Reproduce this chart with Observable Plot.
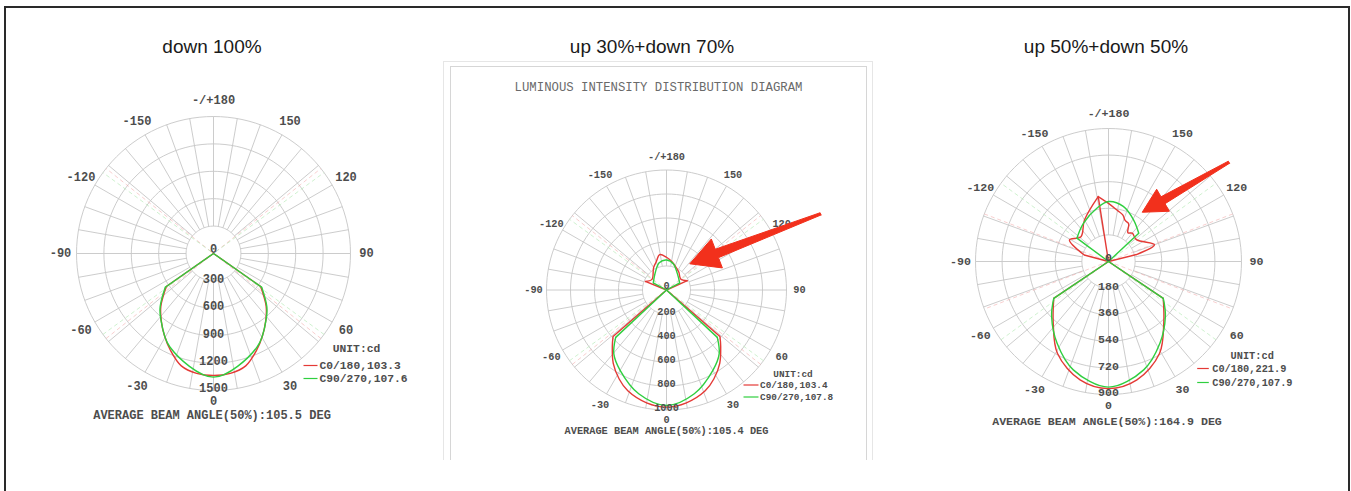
<!DOCTYPE html>
<html><head><meta charset="utf-8">
<script src="https://cdn.jsdelivr.net/npm/d3@7"></script>
<script src="https://cdn.jsdelivr.net/npm/@observablehq/plot@0.6"></script>
<style>
body{margin:0;background:#fff;width:1351px;height:491px;overflow:hidden;position:relative;font-family:"Liberation Sans",Arial,sans-serif}
.frame{position:absolute;left:4px;top:6px;width:1342px;height:520px;border:2px solid #2a2a2a;border-bottom:none}
.box{position:absolute;border:1px solid #d6d6d6;border-bottom:none}
.title{position:absolute;font-size:19px;line-height:22px;color:#1a1a1a;transform:translateX(-50%);white-space:nowrap}
.chart{position:absolute}
.chart svg{overflow:visible}
</style></head><body>
<div class="frame"></div>
<div class="box" style="left:443px;top:61px;width:428px;height:398px;border-color:#e6e6e6"></div>
<div class="box" style="left:450px;top:66px;width:415px;height:393px"></div>
<div id="root"></div>
<script>
// ---------------- data ----------------
const titles = ["down 100%", "up 30%+down 70%", "up 50%+down 50%"];
const angleTicks = [180, 150, 120, 90, 60, 30, 0, -30, -60, -90, -120, -150];
const angleTickLabels = ["-/+180", "150", "120", "90", "60", "30", "0", "-30", "-60", "-90", "-120", "-150"];
const scaleTicks1 = [0, 300, 600, 900, 1200, 1500];
const scaleTicks2 = [0, 200, 400, 600, 800, 1000];
const scaleTicks3 = [0, 180, 360, 540, 720, 900];
const legendLabels1 = ["C0/180,103.3", "C90/270,107.6"];
const legendLabels2 = ["C0/180,103.4", "C90/270,107.8"];
const legendLabels3 = ["C0/180,221.9", "C90/270,107.9"];
const beamRed = [103.3, 103.4, 221.9];
const beamGreen = [107.6, 107.8, 107.9];
const avgBeam = [105.5, 105.4, 164.9];
const diagramHeading2 = "LUMINOUS INTENSITY DISTRIBUTION DIAGRAM";

// curves: [angle in degrees (0 = down, +90 = right, ±180 = up), intensity cd]
const red1 = [[-90,0],[-55,630],[-45,815],[-38,930],[-31,1045],[-24,1160],[-16,1280],[-8,1325],[0,1336],[8,1325],[16,1280],[24,1160],[31,1045],[38,930],[45,815],[55,630],[90,0]];
const green1 = [[-90,0],[-55,645],[-45,826],[-39,918],[-25,1130],[0,1354],[25,1130],[39,918],[45,826],[55,645],[90,0]];

const red2 = [[90,0],[114,190],[128,150],[145,180],[155,200],[168,237],[180,273],[-169,300],[-160,250],[-150,215],[-126,150],[-112,190],[-90,0],[-49,590],[-44,650],[-36,755],[-28,840],[-21,900],[-10,955],[0,976],[10,955],[21,900],[28,840],[36,755],[44,650],[49,590],[90,0]];
const green2 = [[90,0],[118,125],[147,165],[165,225],[180,250],[-165,235],[-149,178],[-118,125],[-90,0],[-47,579],[-39.5,690],[-30,773],[-15,895],[0,962],[15,895],[30,773],[39.5,690],[47,579],[90,0]];

const red3 = [[-171,445],[180,393],[170,350],[163,330],[158,300],[152,290],[146,235],[140,250],[128,240],[110,331],[104,195],[90,0],[56,447],[42,559],[29,712],[13.5,824],[0,860],[-13.5,824],[-29,712],[-42,559],[-56,447],[-90,0],[-105,170],[-119,302],[-132,251],[-150,325],[-171,445],[-171,0]];
const green3 = [[90,0],[133,280],[149,329],[165,386],[180,406],[-168,370],[-147,310],[-126.5,266],[-90,0],[-56,447],[-46,535],[-32,655],[-18,771],[0,850],[18,771],[32,655],[46,535],[56,447],[90,0]];

// annotation arrows: tail and tip as [angle, cd]
const arrowTail2 = [116.3, 1432], arrowTip2 = [138.4, 292];
const arrowTail3 = [129.5, 1056], arrowTip3 = [145.6, 404];

// ---------------- layout ----------------
const RED = "#e43a36", GREEN = "#2fcf3f", ARROW = "#f2301c";
const configs = [
  {left: 30, top: 95, width: 400, height: 335, cx: 213, cy: 253, R: 137, max: 1500, ticks: scaleTicks1,
   red: red1, green: green1, legend: legendLabels1, i: 0, fs: 12, lfs: 11.3, labelOff: 16, zeroOff: 11,
   lg: {ux: 143, uy: 95, sx0: 90, sx1: 104, sy: [112, 125], tx: 106}, avgDy: 162, avgDx: -1.5,
   arrow: null, titleX: 212},
  {left: 455, top: 70, width: 405, height: 375, cx: 666, cy: 289.5, R: 120, max: 1000, ticks: scaleTicks2,
   red: red2, green: green2, legend: legendLabels2, i: 1, fs: 10.3, lfs: 9.4, labelOff: 13, zeroOff: 10,
   lg: {ux: 126.5, uy: 84, sx0: 77, sx1: 92, sy: [95, 107], tx: 93.5}, avgDy: 140.5, avgDx: 0,
   arrow: {tail: arrowTail2, tip: arrowTip2, hl: 29, hw: 15.5, sw1: 4.5, sw0: 1.2}, titleX: 652,
   heading: diagramHeading2, headDx: -8, headDy: -202.5},
  {left: 925, top: 95, width: 420, height: 340, cx: 1108, cy: 261, R: 133, max: 900, ticks: scaleTicks3,
   red: red3, green: green3, legend: legendLabels3, i: 2, fs: 11.6, lfs: 10.3, labelOff: 15, zeroOff: 11,
   lg: {ux: 143.7, uy: 94, sx0: 88.7, sx1: 100.3, sy: [107, 121], tx: 103.7}, avgDy: 160, avgDx: -1.5,
   arrow: {tail: arrowTail3, tip: arrowTip3, hl: 24, hw: 12.7, sw1: 4, sw0: 1.2}, titleX: 1106}
];

const root = document.getElementById("root");
const rad = a => a * Math.PI / 180;

// split a curve into smooth runs (away from the centre) and straight spokes to the centre
function splitCurve(arr) {
  const runs = [], links = [];
  let chunk = 0, prev = null;
  arr.forEach(([a, r]) => {
    if (r === 0) {
      if (prev && prev.r !== 0) links.push({a: prev.a, r: prev.r});
      chunk++;
      prev = {a, r};
    } else {
      if (prev && prev.r === 0) links.push({a, r});
      runs.push({a, r, chunk});
      prev = {a, r};
    }
  });
  return {runs, links};
}

configs.forEach(c => {
  const t = document.createElement("div");
  t.className = "title";
  t.style.left = c.titleX + "px";
  t.style.top = "36px";
  t.textContent = titles[c.i];
  root.appendChild(t);

  const k = c.max / c.R; // cd per pixel
  const cxL = c.cx - c.left, cyL = c.cy - c.top;
  const px = (a, r) => r * Math.sin(rad(a));
  const py = (a, r) => -r * Math.cos(rad(a));
  const X = dx => dx * k, Y = dy => -dy * k;
  const step = c.max / 5;
  const ringPts = d3.range(1, 6).flatMap(i => d3.range(0, 361, 3).map(a => ({i, a, r: i * step})));
  const spokes = d3.range(-170, 181, 10);
  const font = {fontFamily: "Liberation Mono, DejaVu Sans Mono, monospace", fontWeight: "bold", fill: "#4d4d4d"};
  const hr = beamRed[c.i] / 2, hg = beamGreen[c.i] / 2;
  const redBeams = [hr, -hr], greenBeams = [hg, -hg];
  const labOff = a => (a === 0 ? c.zeroOff : c.labelOff) * k;

  const curveMarks = (arr, color) => {
    const {runs, links} = splitCurve(arr);
    return [
      Plot.line(runs, {x: d => px(d.a, d.r), y: d => py(d.a, d.r), z: "chunk", stroke: color, strokeWidth: 1.4, curve: "catmull-rom"}),
      Plot.link(links, {x1: 0, y1: 0, x2: d => px(d.a, d.r), y2: d => py(d.a, d.r), stroke: color, strokeWidth: 1.4})
    ];
  };

  const marks = [
    Plot.line(ringPts, {x: d => px(d.a, d.r), y: d => py(d.a, d.r), z: "i", stroke: "#c6c6c6", strokeWidth: 0.9}),
    Plot.link(spokes, {x1: a => px(a, step), y1: a => py(a, step), x2: a => px(a, c.max), y2: a => py(a, c.max), stroke: "#c6c6c6", strokeWidth: 0.9}),
    Plot.link(redBeams, {x1: a => px(a, c.max), y1: a => py(a, c.max), x2: a => px(a + 180, c.max), y2: a => py(a + 180, c.max), stroke: "#f2a8a8", strokeWidth: 0.8, strokeDasharray: "4,3", strokeOpacity: 0.7}),
    Plot.link(greenBeams, {x1: a => px(a, c.max), y1: a => py(a, c.max), x2: a => px(a + 180, c.max), y2: a => py(a + 180, c.max), stroke: "#a8e6a8", strokeWidth: 0.8, strokeDasharray: "4,3", strokeOpacity: 0.7}),
    ...curveMarks(c.red, RED),
    ...curveMarks(c.green, GREEN),
    Plot.text(angleTicks.map((a, j) => ({a, label: angleTickLabels[j]})), {
      x: d => px(d.a, c.max + labOff(d.a)), y: d => py(d.a, c.max + labOff(d.a)), text: "label",
      ...font, fontSize: c.fs}),
    Plot.text(c.ticks, {x: 0, y: v => -v + (v === 0 ? 4 : 2) * k, text: v => String(v), ...font, fontSize: c.fs}),
    Plot.text(["UNIT:cd"], {x: X(c.lg.ux), y: Y(c.lg.uy), text: d => d, ...font, fontSize: c.lfs}),
    Plot.link([0], {x1: X(c.lg.sx0), x2: X(c.lg.sx1), y1: Y(c.lg.sy[0]), y2: Y(c.lg.sy[0]), stroke: RED, strokeWidth: 1.2}),
    Plot.link([1], {x1: X(c.lg.sx0), x2: X(c.lg.sx1), y1: Y(c.lg.sy[1]), y2: Y(c.lg.sy[1]), stroke: GREEN, strokeWidth: 1.2}),
    Plot.text(c.legend, {x: X(c.lg.tx), y: (d, j) => Y(c.lg.sy[j]), text: d => d, textAnchor: "start", ...font, fontSize: c.lfs}),
    Plot.text([`AVERAGE BEAM ANGLE(50%):${avgBeam[c.i]} DEG`], {x: X(c.avgDx), y: Y(c.avgDy), text: d => d, ...font, fontSize: c.fs})
  ];
  if (c.heading) {
    marks.push(Plot.text([c.heading], {x: X(c.headDx), y: Y(c.headDy), text: d => d,
      fontFamily: "Liberation Mono, monospace", fill: "#6a6a6a", fontSize: 12.3}));
  }
  if (c.arrow) {
    const s = c.arrow;
    const T = [px(...s.tail), py(...s.tail)], P = [px(...s.tip), py(...s.tip)];
    const dx = P[0] - T[0], dy = P[1] - T[1], len = Math.hypot(dx, dy);
    const u = [dx / len, dy / len], n = [-u[1], u[0]];
    const hl = s.hl * k, hw = s.hw * k, sw1 = s.sw1 * k, sw0 = s.sw0 * k;
    const B = [P[0] - u[0] * hl, P[1] - u[1] * hl];
    const add = (p, v, m) => [p[0] + v[0] * m, p[1] + v[1] * m];
    const poly = [add(T, n, sw0), add(B, n, sw1), add(B, n, hw), P, add(B, n, -hw), add(B, n, -sw1), add(T, n, -sw0), add(T, n, sw0)];
    marks.push(Plot.line(poly, {x: d => d[0], y: d => d[1], fill: ARROW, stroke: ARROW, strokeWidth: 1, strokeLinejoin: "round"}));
  }

  const svg = Plot.plot({
    width: c.width, height: c.height, margin: 0,
    x: {domain: [-cxL * k, (c.width - cxL) * k], axis: null},
    y: {domain: [(cyL - c.height) * k, cyL * k], axis: null},
    style: {background: "transparent"},
    marks
  });
  const holder = document.createElement("div");
  holder.className = "chart";
  holder.style.left = c.left + "px";
  holder.style.top = c.top + "px";
  holder.appendChild(svg);
  root.appendChild(holder);
});
</script>
</body></html>
